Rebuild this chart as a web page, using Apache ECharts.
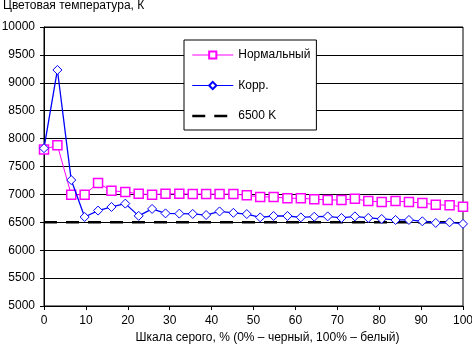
<!DOCTYPE html>
<html>
<head>
<meta charset="utf-8">
<script src="https://cdn.jsdelivr.net/npm/echarts@6/dist/echarts.min.js"></script>
<style>
html,body{margin:0;padding:0;background:#fff;}
#chart{width:472px;height:349px;}
</style>
</head>
<body>
<div id="chart"></div>
<script>
// Gray scale positions, %
var grayLevels = [0, 3.2, 6.5, 9.7, 12.9, 16.1, 19.4, 22.6, 25.8, 29.0, 32.3, 35.5, 38.7, 41.9, 45.2, 48.4,
                  51.6, 54.8, 58.1, 61.3, 64.5, 67.7, 71.0, 74.2, 77.4, 80.6, 83.9, 87.1, 90.3, 93.5, 96.8, 100];
// Color temperature, K
var normalTemp = [7805, 7880, 6995, 6995, 7205, 7065, 7045, 7010, 6995, 7010, 7010, 7005, 7005, 7005, 7005, 6985,
                  6955, 6955, 6930, 6930, 6915, 6900, 6900, 6920, 6880, 6865, 6880, 6865, 6845, 6815, 6805, 6780];
var corrTemp   = [7828, 9230, 7257, 6595, 6710, 6775, 6835, 6615, 6740, 6660, 6655, 6650, 6630, 6695, 6670, 6648,
                  6588, 6613, 6613, 6588, 6600, 6606, 6578, 6606, 6578, 6560, 6542, 6542, 6518, 6489, 6500, 6472];
var refX = [0, 100];
var refTemp = [6500, 6500];
var seriesNames = ['Нормальный', 'Корр.', '6500 K'];
var titleText = 'Цветовая температура, К';
var xAxisTitle = 'Шкала серого, % (0% – черный, 100% – белый)';

function pairs(xs, ys) { return xs.map(function (x, i) { return [x, ys[i]]; }); }

var font = '"Liberation Sans", Arial, sans-serif';
var chart = echarts.init(document.getElementById('chart'), null, {renderer: 'canvas'});
chart.setOption({
  animation: false,
  backgroundColor: '#fff',
  textStyle: {fontFamily: font},
  title: {
    text: titleText, left: 3, top: 0, padding: 0,
    textStyle: {fontSize: 12, fontWeight: 'normal', color: '#000', fontFamily: font}
  },
  grid: {left: 44, right: 9, top: 27, bottom: 43, containLabel: false, outerBoundsMode: 'none',
         show: true, borderColor: '#000', borderWidth: 1, backgroundColor: 'transparent'},
  legend: {
    orient: 'vertical', left: 184, top: 40,
    padding: [9, 6, 8, 7], itemGap: 18.5, itemWidth: 41, itemHeight: 9,
    backgroundColor: '#fff', borderColor: '#000', borderWidth: 1, borderRadius: 0,
    textStyle: {fontSize: 12, color: '#000', fontFamily: font},
    data: [
      {name: seriesNames[0], lineStyle: {width: 1}},
      {name: seriesNames[1], lineStyle: {width: 1}},
      {name: seriesNames[2], itemStyle: {opacity: 0}, lineStyle: {width: 2.5}}
    ]
  },
  xAxis: {
    type: 'value', min: 0, max: 100, interval: 10,
    name: xAxisTitle, nameLocation: 'middle', nameGap: 26,
    nameTextStyle: {fontSize: 12, color: '#000', fontFamily: font, padding: [0, 0, 0, 28]},
    axisLine: {show: true, lineStyle: {color: '#000', width: 1}},
    axisTick: {show: true, inside: false, length: 4, lineStyle: {color: '#000'}},
    axisLabel: {fontSize: 12, color: '#000', margin: 9, fontFamily: font},
    splitLine: {show: false}
  },
  yAxis: {
    type: 'value', min: 5000, max: 10000, interval: 500,
    axisLine: {show: true, lineStyle: {color: '#000', width: 1}},
    axisTick: {show: true, inside: false, length: 4, lineStyle: {color: '#000'}},
    axisLabel: {fontSize: 12, color: '#000', margin: 9, fontFamily: font,
                formatter: function (v) { return String(v); }},
    splitLine: {show: true, lineStyle: {color: '#000', width: 1}}
  },
  series: [
    {
      name: seriesNames[2], type: 'line', data: pairs(refX, refTemp),
      symbol: 'none', showSymbol: false, z: 1,
      lineStyle: {color: '#000', width: 2.5, type: [13, 9]},
      itemStyle: {color: '#000'}
    },
    {
      name: seriesNames[0], type: 'line', data: pairs(grayLevels, normalTemp),
      symbol: 'rect', symbolSize: 9, showAllSymbol: true, z: 2,
      lineStyle: {color: '#ff00ff', width: 1},
      itemStyle: {color: '#fff', borderColor: '#ff00ff', borderWidth: 1.5}
    },
    {
      name: seriesNames[1], type: 'line', data: pairs(grayLevels, corrTemp),
      symbol: 'diamond', symbolSize: 9, showAllSymbol: true, z: 3,
      lineStyle: {color: '#0000ff', width: 1.3},
      itemStyle: {color: '#fff', borderColor: '#0000ff', borderWidth: 1}
    }
  ]
});
</script>
</body>
</html>
